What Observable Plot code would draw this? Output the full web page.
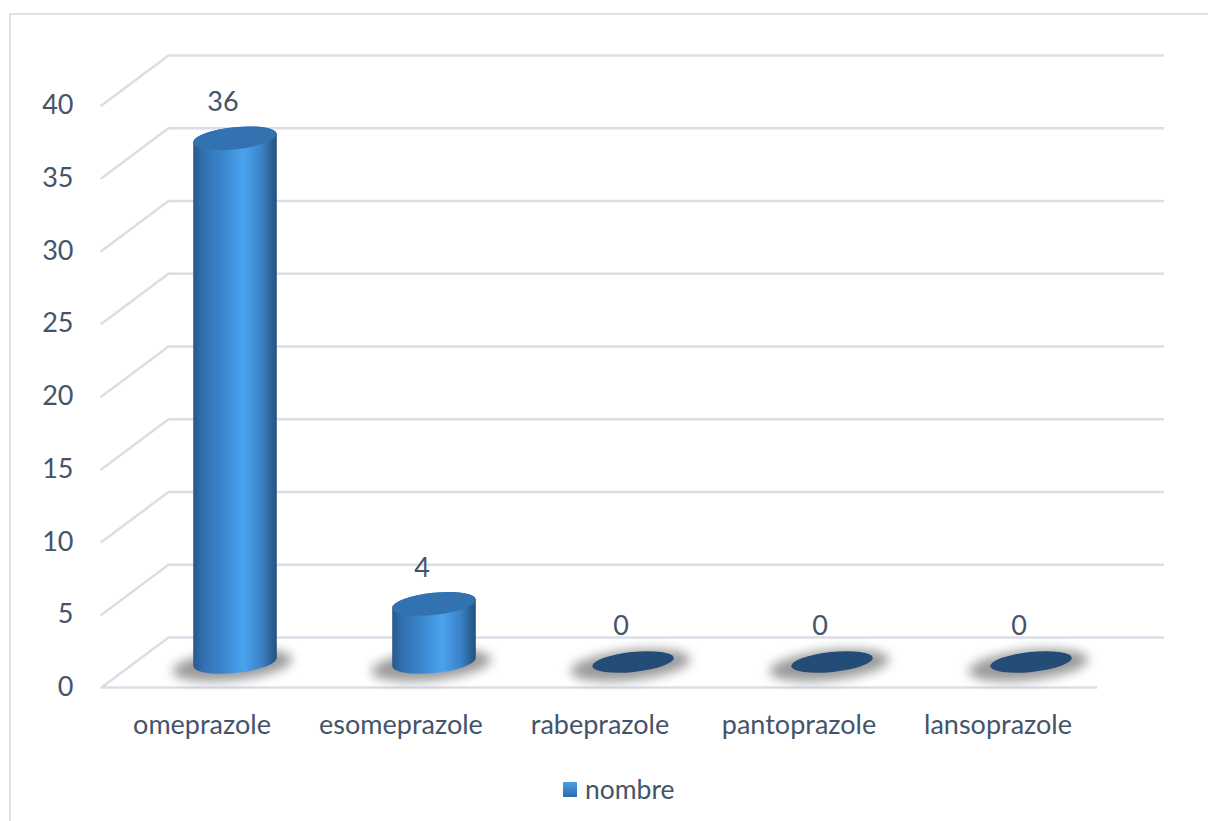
<!DOCTYPE html>
<html>
<head>
<meta charset="utf-8">
<script src="https://cdn.jsdelivr.net/npm/d3@7"></script>
<script src="https://cdn.jsdelivr.net/npm/@observablehq/plot@0.6"></script>
<style>
  body { margin: 0; background: #fff; }
  #wrap { position: relative; width: 1208px; height: 821px; overflow: hidden; font-family: Lato, "Open Sans", sans-serif; color: #44546a; }
  #border { position: absolute; left: 9px; top: 13px; width: 1400px; height: 1000px; border: 2px solid #dde1e8; box-sizing: border-box; }
  #chart { position: absolute; left: 0; top: 0; }
  #legend { position: absolute; left: 563px; top: 773px; display: flex; align-items: center; font-size: 26.5px; }
  #legend .swatch { width: 14px; height: 15px; margin-right: 8px; background: linear-gradient(#4aa0ea, #2f6aa6); }
</style>
</head>
<body>
<div id="wrap">
  <div id="border"></div>
  <div id="chart"></div>
  <div id="legend"><span class="swatch"></span><span id="legend-label"></span></div>
</div>
<script>
// Number of patients per proton-pump inhibitor
const drugs = ["omeprazole", "esomeprazole", "rabeprazole", "pantoprazole", "lansoprazole"];
const counts = [36, 4, 0, 0, 0];
const yTicks = [0, 5, 10, 15, 20, 25, 30, 35, 40];
const seriesName = "nombre";

const rows = drugs.map((drug, i) => ({drug, count: counts[i]}));

// depth of the 3D floor in pixels (front edge -> back wall)
const depthX = 67, depthY = -50;
const gridColor = "#dadee6";
const textColor = "#44546a";

// draws a line segment along the vector direction
const segment = {draw(context, l) { context.moveTo(0, 0); context.lineTo(0, -l); }};

// point on a rotated ellipse
function ept(cx, cy, rx, ry, th, t) {
  const c = Math.cos(th), s = Math.sin(th);
  return [cx + rx * Math.cos(t) * c - ry * Math.sin(t) * s,
          cy + rx * Math.cos(t) * s + ry * Math.sin(t) * c];
}

// renders each bar as a shaded cylinder sitting mid-depth on the floor
function cylinders(index, scales, values, dimensions, context) {
  const svg = d3.create("svg:g");
  const defs = svg.append("defs");
  const uid = "cyl" + Math.random().toString(36).slice(2);
  defs.append("filter").attr("id", uid + "-blur")
    .attr("x", "-50%").attr("y", "-100%").attr("width", "200%").attr("height", "300%")
    .append("feGaussianBlur").attr("stdDeviation", 5.5);
  const grad = defs.append("linearGradient").attr("id", uid + "-body");
  [[0, "#29598a"], [0.12, "#3170b0"], [0.35, "#3a86cc"], [0.6, "#4aa3ef"], [0.82, "#3b82c6"], [1, "#22507d"]]
    .forEach(([o, c]) => grad.append("stop").attr("offset", o).attr("stop-color", c));

  const bw = scales.x.bandwidth();
  const rx = 42, ry = 11, th = -6 * Math.PI / 180;
  const thDeg = -6;
  const items = Array.from(index, i => {
    const cx = values.x[i] + bw / 2 + depthX / 2;
    const baseY = values.y1[i] + depthY / 2;
    const topY = values.y2[i] + depthY / 2;
    return {i, cx, baseY, topY, h: baseY - topY};
  });

  // soft floor shadows
  for (const d of items) {
    svg.append("ellipse")
      .attr("cx", d.cx - 3).attr("cy", d.baseY + 3)
      .attr("rx", 60).attr("ry", 15)
      .attr("transform", `rotate(${thDeg},${d.cx},${d.baseY})`)
      .attr("fill", "#6f6f6f").attr("opacity", 0.7)
      .attr("filter", `url(#${uid}-blur)`);
  }

  for (const d of items) {
    if (d.h < 0.5) {
      svg.append("ellipse")
        .attr("cx", d.cx).attr("cy", d.baseY)
        .attr("rx", rx - 1).attr("ry", ry - 1)
        .attr("transform", `rotate(${thDeg},${d.cx},${d.baseY})`)
        .attr("fill", "#234c76");
      continue;
    }
    const t0 = Math.atan(-ry * Math.tan(th) / rx);
    const rB = ept(d.cx, d.baseY, rx, ry, th, t0);
    const lB = ept(d.cx, d.baseY, rx, ry, th, t0 + Math.PI);
    const rT = ept(d.cx, d.topY, rx, ry, th, t0);
    const lT = ept(d.cx, d.topY, rx, ry, th, t0 + Math.PI);
    const path = `M${lT[0]},${lT[1]}L${lB[0]},${lB[1]}` +
      `A${rx},${ry} ${thDeg} 0 0 ${rB[0]},${rB[1]}` +
      `L${rT[0]},${rT[1]}` +
      `A${rx},${ry} ${thDeg} 0 0 ${lT[0]},${lT[1]}Z`;
    svg.append("path").attr("d", path).attr("fill", `url(#${uid}-body)`);
    svg.append("ellipse")
      .attr("cx", d.cx).attr("cy", d.topY)
      .attr("rx", rx).attr("ry", ry)
      .attr("transform", `rotate(${thDeg},${d.cx},${d.topY})`)
      .attr("fill", "#3272b1");
  }
  return svg.node();
}

const chart = Plot.plot({
  width: 1208,
  height: 760,
  marginLeft: 101,
  marginRight: 111,
  marginTop: 105,
  marginBottom: 73,
  style: {fontFamily: "Lato, 'Open Sans', sans-serif", fontSize: "27px", color: textColor, background: "transparent", overflow: "visible"},
  x: {domain: drugs, padding: 0, label: null},
  y: {domain: [0, 40], label: null},
  marks: [
    // back wall gridlines
    Plot.ruleY(yTicks, {dx: depthX, dy: depthY, stroke: gridColor, strokeWidth: 2.5}),
    // side wall diagonals
    Plot.vector(yTicks, {
      y: d => d, frameAnchor: "left", anchor: "start",
      length: Math.hypot(depthX, depthY),
      rotate: Math.atan2(depthX, -depthY) * 180 / Math.PI,
      shape: segment, stroke: gridColor, strokeWidth: 2.5
    }),
    // front edge of the floor
    Plot.ruleY([0], {stroke: gridColor, strokeWidth: 2.5}),
    Plot.axisY(yTicks, {tickSize: 0, tickPadding: 28, label: null}),
    Plot.axisX({tickSize: 0, tickPadding: 27, label: null}),
    Plot.barY(rows, {x: "drug", y: "count", render: cylinders}),
    Plot.text(rows, {x: "drug", y: "count", text: d => String(d.count), dx: 21, dy: -61, fill: textColor})
  ]
});

document.getElementById("chart").append(chart);
document.getElementById("legend-label").textContent = seriesName;
</script>
</body>
</html>
